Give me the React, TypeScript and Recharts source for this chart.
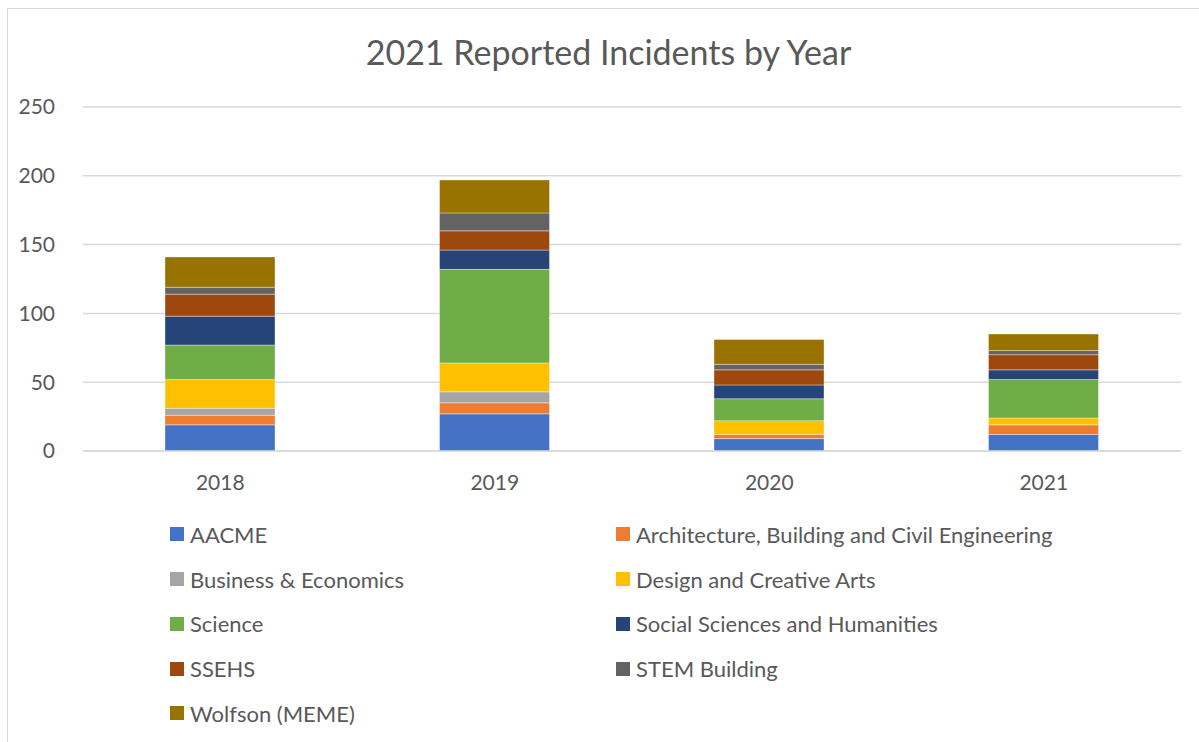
import { Bar, BarChart, CartesianGrid, Legend, XAxis, YAxis } from "recharts"

const years = ["2018", "2019", "2020", "2021"]

const aacme = [19, 27, 9, 12]
const architecture = [7, 8, 3, 7]
const business = [5, 8, 0, 0]
const design = [21, 21, 10, 5]
const science = [25, 68, 16, 28]
const socialSciences = [21, 14, 10, 7]
const ssehs = [16, 14, 11, 11]
const stem = [5, 13, 4, 3]
const wolfson = [22, 24, 18, 12]

const yTicks = [0, 50, 100, 150, 200, 250]

const series = [
  { key: "AACME", values: aacme, color: "#4472C4" },
  { key: "Architecture, Building and Civil Engineering", values: architecture, color: "#ED7D31" },
  { key: "Business & Economics", values: business, color: "#A5A5A5" },
  { key: "Design and Creative Arts", values: design, color: "#FFC000" },
  { key: "Science", values: science, color: "#70AD47" },
  { key: "Social Sciences and Humanities", values: socialSciences, color: "#264478" },
  { key: "SSEHS", values: ssehs, color: "#9E480E" },
  { key: "STEM Building", values: stem, color: "#636363" },
  { key: "Wolfson (MEME)", values: wolfson, color: "#997300" },
]

const data = years.map((year, i) => {
  const row: Record<string, string | number> = { year }
  series.forEach(s => { row[s.key] = s.values[i] })
  return row
})

const font = "Lato, 'Open Sans', sans-serif"
const textColor = "#595959"

function LegendGrid() {
  return (
    <div style={{ display: "grid", gridTemplateColumns: "446px 520px", rowGap: 0, fontFamily: font }}>
      {series.map(s => (
        <div key={s.key} style={{ display: "flex", alignItems: "center", height: 44.75, fontSize: 22, color: textColor, whiteSpace: "nowrap" }}>
          <span style={{ width: 14, height: 14, background: s.color, marginRight: 6, display: "inline-block", flexShrink: 0 }} />
          {s.key}
        </div>
      ))}
    </div>
  )
}

export default function App() {
  return (
    <div style={{ position: "absolute", left: 0, top: 0, width: 1199, height: 742, background: "#fff", overflow: "hidden" }}>
      <style>{"body{margin:0}"}</style>
      <div style={{ position: "absolute", left: 7, top: 8, width: 1200, height: 740, border: "1.5px solid #d9d9d9", boxSizing: "border-box" }} />
      <div style={{ position: "absolute", left: 18, top: 31, width: 1181, textAlign: "center", fontFamily: font, fontSize: 34, color: textColor }}>
        2021 Reported Incidents by Year
      </div>
      <div style={{ position: "absolute", left: 0, top: 0 }}>
        <BarChart width={1199} height={742} data={data} margin={{ top: 107, right: 18, bottom: 251, left: 0 }} barSize={110}>
          <CartesianGrid vertical={false} stroke="#d9d9d9" strokeWidth={1.5} />
          <XAxis
            dataKey="year"
            height={40}
            axisLine={{ stroke: "#d9d9d9", strokeWidth: 1.5 }}
            tickLine={false}
            tickMargin={18}
            tick={{ fill: textColor, fontSize: 21, fontFamily: font }}
          />
          <YAxis
            width={83}
            domain={[0, 250]}
            ticks={yTicks}
            axisLine={false}
            tickLine={false}
            tickMargin={22}
            tick={{ fill: textColor, fontSize: 21, fontFamily: font }}
          />
          <Legend
            layout="vertical"
            align="center"
            verticalAlign="middle"
            content={() => <LegendGrid />}
            wrapperStyle={{ top: 512, left: 170, width: 980 }}
          />
          {series.map(s => (
            <Bar
              key={s.key}
              dataKey={s.key}
              stackId="a"
              fill={s.color}
              stroke="#ffffff"
              strokeOpacity={0.35}
              strokeWidth={1}
              isAnimationActive={false}
            />
          ))}
        </BarChart>
      </div>
    </div>
  )
}
